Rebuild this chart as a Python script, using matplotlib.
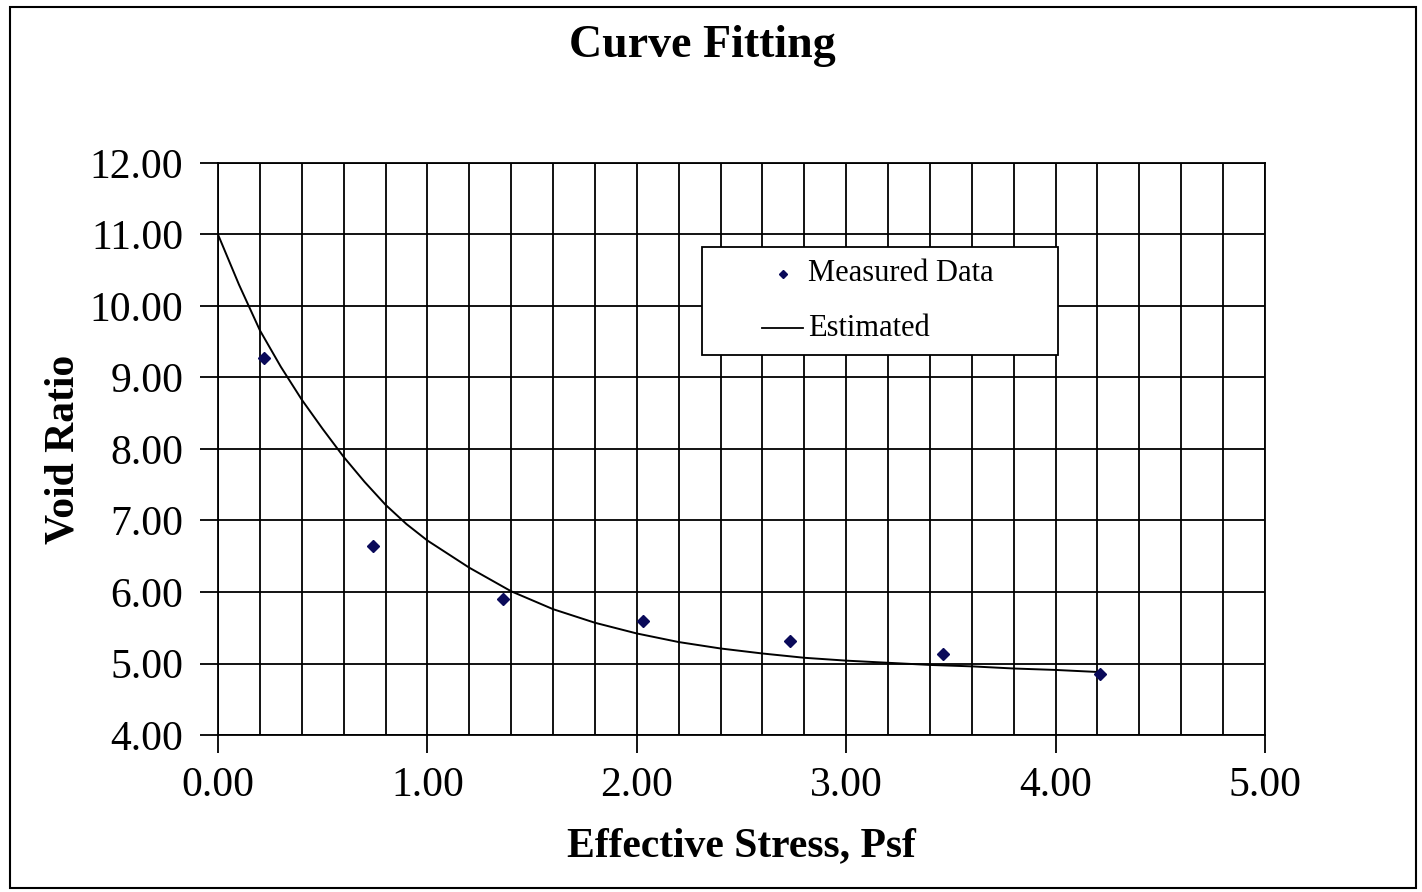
import numpy as np
import matplotlib
matplotlib.use("Agg")
import matplotlib.pyplot as plt
from matplotlib.lines import Line2D
from matplotlib.patches import Rectangle

# measured points
stress = [0.22, 0.74, 1.36, 2.03, 2.73, 3.46, 4.21]
void_ratio = [9.27, 6.64, 5.90, 5.59, 5.31, 5.13, 4.86]

# estimated curve, read point by point
est_stress = [0.0, 0.1, 0.2, 0.3, 0.4, 0.5, 0.6, 0.7, 0.8, 0.9, 1.0, 1.2, 1.4,
              1.6, 1.8, 2.0, 2.2, 2.4, 2.6, 2.8, 3.0, 3.2, 3.4, 3.6, 3.8, 4.0, 4.21]
est_void = [11.00, 10.30, 9.66, 9.15, 8.69, 8.28, 7.89, 7.54, 7.22, 6.95, 6.72,
            6.34, 6.01, 5.76, 5.57, 5.42, 5.30, 5.21, 5.14, 5.08, 5.04, 5.01,
            4.98, 4.96, 4.93, 4.91, 4.88]

xticks = [0, 1, 2, 3, 4, 5]
yticks = [4, 5, 6, 7, 8, 9, 10, 11, 12]

plt.rcParams["font.family"] = ["Liberation Serif", "DejaVu Serif"]

fig = plt.figure(figsize=(14.22, 8.92), dpi=100)
ax = fig.add_axes([0.1533, 0.176, 0.7363, 0.6413])

ax.plot(est_stress, est_void, color="black", lw=1.4, zorder=3)
ax.plot(stress, void_ratio, linestyle="none", marker="D", ms=6,
        color="#0a0a5a", zorder=4)

ax.set_xlim(0, 5)
ax.set_ylim(4, 12)
ax.set_xticks(xticks)
ax.set_xticklabels([f"{v:.2f}" for v in xticks])
ax.set_yticks(yticks)
ax.set_yticklabels([f"{v:.2f}" for v in yticks])
ax.set_xticks(np.arange(0, 5.01, 0.2), minor=True)
ax.tick_params(axis="both", which="major", direction="out", length=13,
               width=1.3, labelsize=30)
ax.tick_params(axis="y", which="major", pad=12)
ax.tick_params(axis="x", which="major", pad=10)
ax.tick_params(axis="x", which="minor", length=0)
ax.grid(True, which="major", color="black", lw=1.3)
ax.grid(True, axis="x", which="minor", color="black", lw=1.3)
for s in ax.spines.values():
    s.set_linewidth(1.3)

ax.set_xlabel("Effective Stress, Psf", fontsize=30, fontweight="bold", labelpad=16)
ax.set_ylabel("Void Ratio", fontsize=30, fontweight="bold", labelpad=5)
fig.text(0.494, 0.948, "Curve Fitting", fontsize=33, fontweight="bold",
         ha="center", va="center")

# legend box drawn by hand to match the original layout
ax.add_patch(Rectangle((0.4623, 0.6643), 0.34, 0.1888, transform=ax.transAxes,
                       facecolor="white", edgecolor="black", lw=1.3, zorder=5))
ax.add_line(Line2D([0.5396], [0.806], transform=ax.transAxes, linestyle="none",
                   marker="D", ms=4.5, color="#0a0a5a", zorder=6))
ax.add_line(Line2D([0.5196, 0.5587], [0.7115, 0.7115], transform=ax.transAxes,
                   color="black", lw=1.3, zorder=6))
ax.text(0.5635, 0.806, "Measured Data", transform=ax.transAxes, fontsize=22,
        va="center", ha="left", zorder=6)
ax.text(0.5635, 0.7115, "Estimated", transform=ax.transAxes, fontsize=22,
        va="center", ha="left", zorder=6)

fig.patches.append(Rectangle((0.007, 0.005), 0.989, 0.987,
                             transform=fig.transFigure, fill=False,
                             edgecolor="black", lw=1.5))

fig.savefig("out.png", dpi=100)
